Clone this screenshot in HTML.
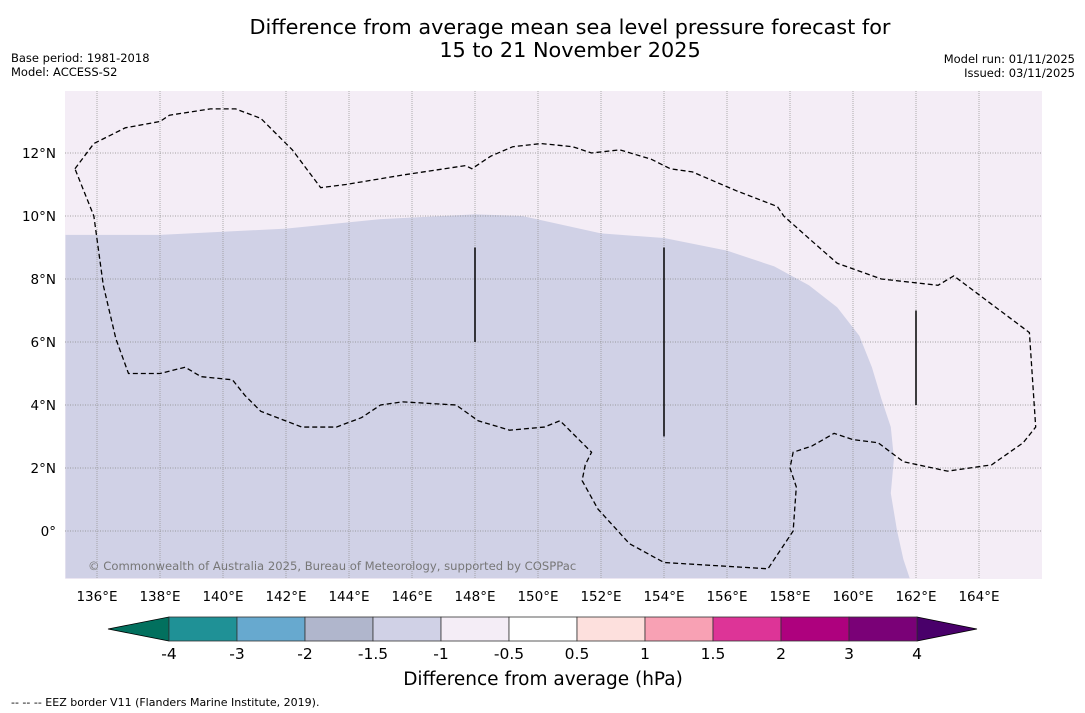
<!DOCTYPE html>
<html><head><meta charset="utf-8"><style>
body{margin:0;background:#fff;width:1085px;height:713px;overflow:hidden;font-family:"DejaVu Sans","Liberation Sans",sans-serif;}
svg{display:block}
</style></head><body>
<svg width="1085" height="713">
<text x="570" y="34" font-size="20.8" text-anchor="middle">Difference from average mean sea level pressure forecast for</text>
<text x="570" y="57" font-size="20.8" text-anchor="middle">15 to 21 November 2025</text>
<text x="11" y="62" font-size="11.5">Base period: 1981-2018</text>
<text x="11" y="76" font-size="11.5">Model: ACCESS-S2</text>
<text x="1075" y="63" font-size="11.5" text-anchor="end">Model run: 01/11/2025</text>
<text x="1075" y="77" font-size="11.5" text-anchor="end">Issued: 03/11/2025</text>
<g id="map"></g>
<g id="cbar"></g>
<text x="543" y="685" font-size="18.5" text-anchor="middle">Difference from average (hPa)</text>
<text x="11" y="706" font-size="11">--  --  -- EEZ border V11 (Flanders Marine Institute, 2019).</text>
</svg>
<script>
const lonTicks=[136,138,140,142,144,146,148,150,152,154,156,158,160,162,164];
const latTicks=[12,10,8,6,4,2,0];
const cbLevels=["-4","-3","-2","-1.5","-1","-0.5","0.5","1","1.5","2","3","4"];
const cbColors=["#1f9196","#67a9cf","#b0b6cc","#d0d1e6","#f4edf6","#ffffff","#fde0dd","#f8a1b4","#dd3497","#ae017e","#7a0177"];
const eezLon=[135.3,135.9,136.9,138.0,138.3,139.6,140.4,141.2,142.2,143.1,143.9,145.7,147.7,147.9,148.5,149.2,150.1,151.1,151.7,152.6,153.6,154.2,154.9,156.3,157.6,157.8,158.7,159.5,160.9,162.7,163.2,165.6,165.8,165.4,164.4,163.0,161.6,160.8,160.0,159.4,158.7,158.1,158.0,158.2,158.1,157.3,154.0,152.9,151.9,151.4,151.5,151.7,151.2,150.7,150.2,149.1,148.1,147.4,145.7,145.0,144.4,143.6,142.5,141.2,140.7,140.3,139.3,138.8,138.0,137.0,136.6,136.2,135.9,135.3];
const eezLat=[11.5,12.3,12.8,13.0,13.2,13.4,13.4,13.1,12.1,10.9,11.0,11.3,11.6,11.5,11.9,12.2,12.3,12.2,12.0,12.1,11.8,11.5,11.4,10.8,10.3,10.0,9.2,8.5,8.0,7.8,8.1,6.3,3.3,2.8,2.1,1.9,2.2,2.8,2.9,3.1,2.7,2.5,2.0,1.4,0.0,-1.2,-1.0,-0.4,0.7,1.6,2.1,2.5,3.0,3.5,3.3,3.2,3.5,4.0,4.1,4.0,3.6,3.3,3.3,3.8,4.3,4.8,4.9,5.2,5.0,5.0,6.1,7.8,10.0,11.5];
const shadeLon=[135,138,142,145,148,149.5,152,154,156,157.5,158.6,159.5,160.2,160.6,160.9,161.2,161.3,161.2,161.4,161.6,161.8,135];
const shadeLat=[9.4,9.4,9.6,9.9,10.05,10.0,9.45,9.3,8.9,8.4,7.8,7.1,6.2,5.2,4.2,3.3,2.3,1.2,0.0,-0.9,-1.5,-1.5];
const barLon=[148,154,162], barLat0=[6,3,4], barLat1=[9,9,7];
const NS="http://www.w3.org/2000/svg";
const X0=65,X1=1042,Y0=91,Y1=579;
const xs=l=>97+(l-136)*31.5, ys=a=>531-a*31.5;
function mk(t,a,p){const e=document.createElementNS(NS,t);for(const k in a)e.setAttribute(k,a[k]);p.appendChild(e);return e;}
const map=document.getElementById('map');
const bg=mk('rect',{x:X0,y:Y0,width:X1-X0,height:Y1-Y0,fill:'#f4edf6'},map);


const sh=mk('polygon',{points:shadeLon.map((l,i)=>Math.max(X0,xs(l))+','+Math.min(Y1,ys(shadeLat[i]))).join(' '),fill:'#d0d1e6'},map);


lonTicks.forEach(l=>{
 const g=mk('line',{x1:xs(l),x2:xs(l),y1:Y0,y2:Y1,stroke:'#999',"stroke-width":0.8,"stroke-dasharray":'1,1'},map);
 
 
 const t=mk('text',{x:xs(l),y:601,"font-size":13.5,"text-anchor":'middle'},map);t.textContent=l+'°E';
 
 
});
latTicks.forEach(a=>{
 const g=mk('line',{x1:X0,x2:X1,y1:ys(a),y2:ys(a),stroke:'#888',"stroke-width":0.8,"stroke-dasharray":'1,1.5'},map);
 
 
 const t=mk('text',{x:56,y:ys(a)+5,"font-size":13.5,"text-anchor":'end'},map);t.textContent=a===0?'0°':a+'°N';
 
 
});
const eez=mk('polyline',{points:eezLon.map((l,i)=>xs(l)+','+ys(eezLat[i])).join(' '),fill:'none',stroke:'#000',"stroke-width":1.3,"stroke-dasharray":'5,3'},map);


barLon.forEach((l,i)=>{
 const b=mk('line',{x1:xs(l),x2:xs(l),y1:ys(barLat0[i]),y2:ys(barLat1[i]),stroke:'#000',"stroke-width":1.5},map);
 
 
});
const cp=mk('text',{x:88,y:570,"font-size":11.6,fill:'#777'},map);cp.textContent='© Commonwealth of Australia 2025, Bureau of Meteorology, supported by COSPPac';


const cb=document.getElementById('cbar');
const CX=169,CW=68,CY=617,CH=24;
const lt=mk('polygon',{points:`${CX},${CY} 108,${CY+CH/2} ${CX},${CY+CH}`,fill:'#02705e',stroke:'#000',"stroke-width":0.8},cb);


const rx=CX+CW*cbColors.length;
const rt=mk('polygon',{points:`${rx},${CY} 977,${CY+CH/2} ${rx},${CY+CH}`,fill:'#49006a',stroke:'#000',"stroke-width":0.8},cb);


cbColors.forEach((c,i)=>{
 const r=mk('rect',{x:CX+i*CW,y:CY,width:CW,height:CH,fill:c,stroke:'#333',"stroke-width":0.8},cb);
 
 
});
cbLevels.forEach((s,i)=>{
 const t=mk('text',{x:CX+i*CW,y:659,"font-size":15.5,"text-anchor":'middle'},cb);t.textContent=s;
 
 
});
</script>
</body></html>
